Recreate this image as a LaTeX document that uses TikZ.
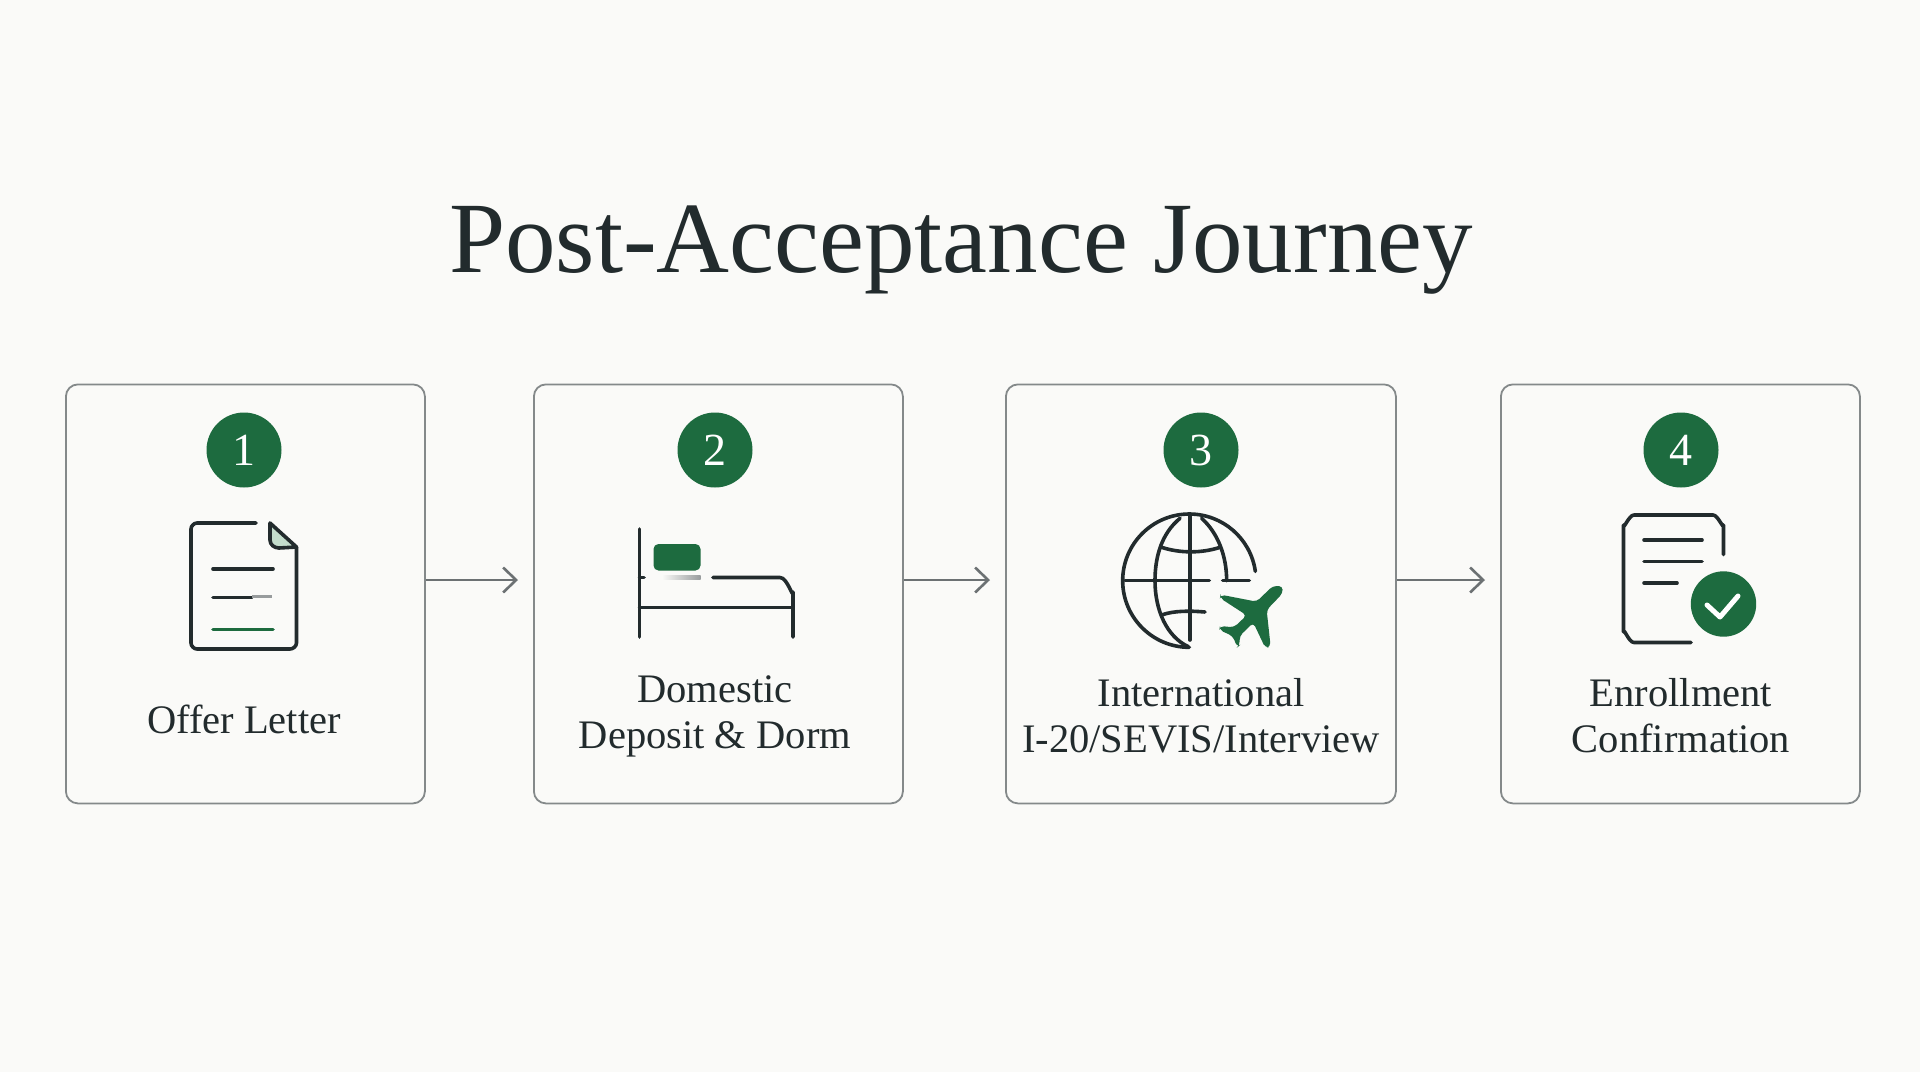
\documentclass[tikz,border=0pt]{standalone}
\usepackage{fontspec}
\setmainfont{Liberation Serif}
\usetikzlibrary{arrows.meta}

\tikzset{
    card/.style={draw=cardColour, line width=1.8pt, rounded corners=12pt, inner sep=0pt},
    badge/.style={circle, fill=mainGreen, text=white, minimum size=75pt, inner sep=0pt, font=\fontsize{46}{46}\selectfont},
    cardLabel/.style={text=inkColour, align=center, font=\fontsize{40.5}{46}\selectfont},
    linkArrow/.style={draw=arrowColour, line width=2.2pt, -{Straight Barb[length=13pt,width=25pt,line width=2.6pt]}},
    iconLine/.style={draw=inkColour, line width=3.6pt, line cap=round, line join=round}
}

\begin{document}
\begin{tikzpicture}[x=1pt, y=-1pt]
    \definecolor{paperColour}{HTML}{FAFAF8}
    \definecolor{inkColour}{HTML}{222B2D}
    \definecolor{cardColour}{HTML}{84898A}
    \definecolor{arrowColour}{HTML}{6C7173}
    \definecolor{mainGreen}{HTML}{1D6B3F}
    \definecolor{paleGreen}{HTML}{C3DDCC}

    % Draw background
    \fill[paperColour] (0,0) rectangle (1920,1072);
    \useasboundingbox (0,0) rectangle (1920,1072);

    % Draw title
    \node[text=inkColour, anchor=base, inner sep=0pt, font=\fontsize{101}{101}\selectfont] (title) at (961,272) {Post-Acceptance Journey};

    % Draw cards with their badges
    \foreach \name/\xmin/\xmax/\badgeX/\num in {A/65/424/244/1, B/533/902/715/2, C/1005/1395/1201/3, D/1500/1859/1681/4} {
        \node[card, anchor=north west, minimum width=\xmax pt-\xmin pt, minimum height=419pt] (card\name) at (\xmin,383.5) {};
        \node[badge] (badge\name) at (\badgeX,450) {\num};
    }

    % Draw card labels
    \node[cardLabel] (labelA) at (244,719) {Offer Letter};
    \node[cardLabel] (labelB) at (715,716) {Domestic\\Deposit \& Dorm};
    \node[cardLabel] (labelC) at (1201,716) {International\\I-20/SEVIS/Interview};
    \node[cardLabel] (labelD) at (1681,716) {Enrollment\\Confirmation};

    % Draw arrows between cards
    \coordinate (tipA) at (518,580);
    \coordinate (tipB) at (990,580);
    \coordinate (tipC) at (1485,580);
    \draw[linkArrow] (cardA.east |- tipA) -- (tipA);
    \draw[linkArrow] (cardB.east |- tipB) -- (tipB);
    \draw[linkArrow] (cardC.east |- tipC) -- (tipC);

    % Draw offer letter icon
    \fill[paleGreen] (270,523) -- (296,548) -- (278,548) -- (270,540) -- cycle;
    \draw[iconLine] (256,523) -- (197,523) to[out=180,in=90,looseness=0.9] (191,529) -- (191,643) to[out=-90,in=180,looseness=0.9] (197,649) -- (290,649) to[out=0,in=-90,looseness=0.9] (296.5,643) -- (296.5,547);
    \draw[iconLine] (270,523) -- (296.5,547) -- (279,548) to[out=180,in=-90] (270,540) -- cycle;
    \draw[iconLine] (213,569) -- (273,569);
    \draw[iconLine] (213,597.5) -- (252,597.5);
    \draw[draw=arrowColour!70, line width=2.4pt] (252,596.5) -- (272,596.5);
    \draw[iconLine, draw=mainGreen] (213,629.5) -- (273,629.5);

    % Draw bed icon
    \draw[iconLine] (639.5,529) -- (639.5,637);
    \draw[iconLine] (793,637) -- (793,592) to[out=-90,in=0] (780,577.5) -- (713,577.5);
    \draw[iconLine] (639.5,577.5) -- (644,577.5);
    \draw[iconLine] (639.5,607.5) -- (793,607.5);
    \fill[mainGreen, rounded corners=5pt] (653.5,544) rectangle (700.5,570.5);
    \shade[left color=paperColour, right color=arrowColour!70] (662,575.5) rectangle (700.5,579);

    % Draw globe icon
    \begin{scope}[shift={(1090,490)}, x=0.3333pt, y=-0.3333pt]
        \draw[iconLine] (298,472) arc[start angle=90, end angle=352, radius=200];
        \draw[iconLine] (105,272) -- (358,272);
        \draw[iconLine] (398,272) -- (478,272);
        \draw[iconLine] (300,75) -- (300,450);
        \draw[iconLine] (270,85) .. controls (215,130) and (195,200) .. (195,272) .. controls (195,360) and (230,440) .. (295,470);
        \draw[iconLine] (335,85) .. controls (385,130) and (410,200) .. (410,272);
        \draw[iconLine] (215,172) .. controls (270,190) and (335,190) .. (390,172);
        \draw[iconLine] (215,375) .. controls (250,362) and (300,362) .. (345,366);
        \fill[mainGreen, rounded corners=4pt] (578,288) -- (548,288) -- (500,335) -- (392,314) -- (390,324) -- (470,376) -- (432,412) -- (390,408) -- (388,420) -- (428,438) -- (442,472) -- (449,466) -- (449,438) -- (490,398) -- (526,474) -- (542,470) -- (530,360) -- (578,310) -- cycle;
    \end{scope}

    % Draw enrollment icon
    \draw[iconLine] (1723.5,554.5) -- (1723.5,525) to[out=-90,in=0,looseness=0.9] (1713,515) -- (1634,515) to[out=180,in=-90,looseness=0.9] (1623.5,525) -- (1623.5,632) to[out=90,in=180,looseness=0.9] (1634,642.5) -- (1691,642.5);
    \draw[iconLine] (1644,540) -- (1702,540);
    \draw[iconLine] (1644,561.5) -- (1702,561.5);
    \draw[iconLine] (1644,583) -- (1677,583);
    \fill[mainGreen] (1723.5,604) circle[radius=32.7];
    \draw[iconLine, draw=white, line width=5pt] (1707,605) -- (1720,617) -- (1738,596);
\end{tikzpicture}
\end{document}
